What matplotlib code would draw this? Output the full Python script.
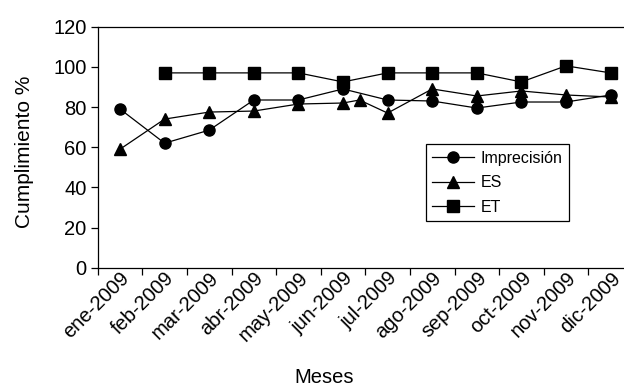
import matplotlib
import matplotlib.pyplot as plt

matplotlib.use("Agg")

plt.rcParams["font.family"] = ["Liberation Sans", "DejaVu Sans"]
plt.rcParams["font.size"] = 14.5

months = ["ene-2009", "feb-2009", "mar-2009", "abr-2009", "may-2009", "jun-2009",
          "jul-2009", "ago-2009", "sep-2009", "oct-2009", "nov-2009", "dic-2009"]

# Imprecisión: one value per month
imprecision_x = list(range(12))
imprecision = [79, 62, 68.5, 83.5, 83.5, 89, 83.5, 83, 79.5, 82.5, 82.5, 86]

# ES has an extra reading in mid-June
es_x = [0, 1, 2, 3, 4, 5, 5.37, 6, 7, 8, 9, 10, 11]
es = [59, 74, 77.5, 78, 81.5, 82, 83.5, 77, 89, 85.5, 88, 86, 85]

# ET starts in February
et_x = list(range(1, 12))
et = [97, 97, 97, 97, 92.5, 97, 97, 97, 92.5, 100.5, 97]

fig = plt.figure(figsize=(6.24, 3.91), dpi=100)
ax = fig.add_axes([97.7 / 624, 1 - 267.7 / 391, 535.2 / 624, 241 / 391])

style = dict(color="black", linewidth=0.9, markeredgecolor="black", markerfacecolor="black")
ax.plot(imprecision_x, imprecision, marker="o", markersize=8, label="Imprecisión", **style)
ax.plot(es_x, es, marker="^", markersize=8.5, label="ES", **style)
ax.plot(et_x, et, marker="s", markersize=8.5, label="ET", **style)

ax.set_ylim(0, 120)
ax.set_yticks(range(0, 121, 20))
ax.set_xlim(-0.5, 11.5)

ax.set_xticks(range(12))
ax.set_xticklabels(months, rotation=45, ha="right", va="top", rotation_mode="anchor")
ax.set_xticks([i - 0.5 for i in range(13)], minor=True)
ax.tick_params(axis="x", which="major", length=0, pad=0.5)
ax.tick_params(axis="x", which="minor", length=5, width=0.9, direction="out")
ax.tick_params(axis="y", length=5, width=0.9, direction="out", pad=3)

for side in ["left", "bottom", "top", "right"]:
    ax.spines[side].set_linewidth(0.9)

ax.set_ylabel("Cumplimiento %", fontsize=15)
ax.set_xlabel("Meses")
ax.yaxis.set_label_coords(-0.119, 0.482)
ax.xaxis.set_label_coords(0.423, -0.418)

leg = ax.legend(loc="upper left", bbox_to_anchor=(425.7 / 624, 1 - 144.3 / 391),
                bbox_transform=fig.transFigure, borderaxespad=0, fancybox=False,
                framealpha=1, edgecolor="black", fontsize=11.5, handlelength=2.6,
                labelspacing=0.6, borderpad=0.4, handletextpad=0.45)
leg.get_frame().set_linewidth(0.9)

fig.savefig("out.png", dpi=100)
